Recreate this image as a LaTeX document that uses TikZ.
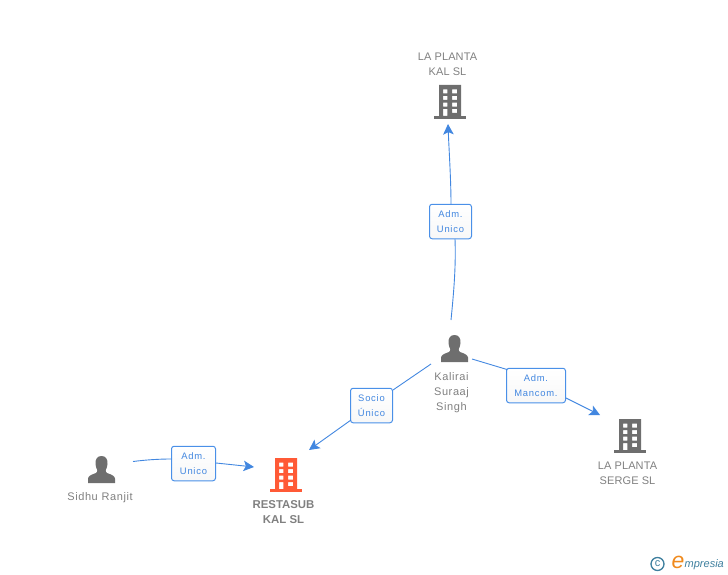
\documentclass[tikz,border=0pt]{standalone}
\usepackage{fontspec}
\setmainfont{Liberation Sans}
\usetikzlibrary{arrows.meta}
\definecolor{linkblue}{HTML}{4287E0}
\definecolor{boxblue}{HTML}{4A90E8}
\definecolor{icongrey}{HTML}{6E6E6E}
\definecolor{textgrey}{HTML}{808080}
\definecolor{accent}{HTML}{FF5A36}
\definecolor{logoteal}{HTML}{3E7F9E}
\definecolor{logoorange}{HTML}{F08A1D}
\tikzset{
  x=1pt,y=-1pt,
  rolebox/.style={draw=boxblue,line width=1pt,rounded corners=2.6pt,top color=white,bottom color=white!97!black,
    text=linkblue,font=\fontsize{9.4}{15}\selectfont\addfontfeature{LetterSpace=8},align=center,inner sep=0pt,text width=#1,minimum height=34.5pt},
  rolebox/.default=42pt,
  link/.style={draw=linkblue,line width=0.9pt},
  linkarrow/.style={link,-{Stealth[length=10.5pt,width=10.5pt,inset=2.4pt]}},
  caption/.style={text=textgrey,font=\fontsize{11}{15}\selectfont\addfontfeature{LetterSpace=#1},align=center,inner sep=0pt},
  caption/.default=1,
  iconbox/.style={minimum width=32pt,minimum height=34pt,inner sep=0pt},
  pics/office/.style={code={
    \fill[#1,even odd rule] (-11,0) rectangle (11,31)
      (-7,4.5) rectangle (-2.6,8.5) (2,4.5) rectangle (7,8.5)
      (-7,11) rectangle (-2.6,15) (2,11) rectangle (7,15)
      (-7,17.7) rectangle (-2.6,21.7) (2,17.7) rectangle (7,21.7)
      (2,24) rectangle (7,28) (-7,24) rectangle (-2.6,31);
    \fill[#1] (-16,31) rectangle (16,34);
  }},
  pics/personicon/.style={code={
    \fill[icongrey] (0,0) .. controls (-4.5,0) and (-6.3,3.5) .. (-6,8)
      .. controls (-5.8,11) and (-5,12.5) .. (-4.2,14)
      .. controls (-4.2,15.5) and (-4.5,16.5) .. (-5.5,17)
      .. controls (-9.5,18.5) and (-13,19.5) .. (-13.5,22.5) -- (-13.5,27) -- (13.5,27) -- (13.5,22.5)
      .. controls (13,19.5) and (9.5,18.5) .. (5.5,17)
      .. controls (4.5,16.5) and (4.2,15.5) .. (4.2,14)
      .. controls (5,12.5) and (5.8,11) .. (6,8)
      .. controls (6.3,3.5) and (4.5,0) .. (0,0) -- cycle;
  }},
}
\begin{document}
\begin{tikzpicture}
\useasboundingbox (0,0) rectangle (728,575);
% icons (named nodes carrying the drawn pictograms)
\node[iconbox] (planta1) at (450,102) {};
\pic at (450,85) {office=icongrey};
\node[iconbox] (planta2) at (630,436) {};
\pic at (630,419) {office=icongrey};
\node[iconbox] (restasub) at (286,475) {};
\pic at (286,458) {office=accent};
\node[iconbox,minimum width=27pt,minimum height=27pt] (kalirai) at (454.5,348.5) {};
\pic at (454.5,335) {personicon};
\node[iconbox,minimum width=27pt,minimum height=27pt] (sidhu) at (101.5,469.5) {};
\pic at (101.5,456) {personicon};
% captions
\node[caption] (tplanta1) at (447.5,64.5) {LA PLANTA\\KAL SL};
\node[caption] (tplanta2) at (627.5,473.5) {LA PLANTA\\SERGE SL};
\node[caption=0,font=\fontsize{11.4}{15}\selectfont\bfseries] (trest) at (283.5,512) {RESTASUB\\KAL SL};
\node[caption=5.5] (tkal) at (451.5,393) {Kalirai\\Suraaj\\Singh};
\node[caption=5.5] (tsid) at (100,498) {Sidhu Ranjit};
% free ends of connectors
\coordinate (k1) at (451,320);
\coordinate (k2) at (431,364);
\coordinate (k3) at (472,359);
\coordinate (s1) at (133,461.5);
\coordinate (tipa) at (448,124);
\coordinate (tipb) at (309,450);
\coordinate (tipc) at (600,415);
\coordinate (tipd) at (254,467);
% role boxes
\node[rolebox] (r1) at (450.5,221.5) {Adm.\\Unico};
\node[rolebox] (r2) at (371.5,405.5) {Socio\\Único};
\node[rolebox=59pt] (r3) at (536,385.5) {Adm.\\Mancom.};
\node[rolebox=44pt] (r4) at (193.5,463.5) {Adm.\\Unico};
% connectors
\draw[link] (k1) .. controls (454,290) and (456,265) .. (455,239);
\draw[linkarrow] (451,204) .. controls (451,180) and (449,150) .. (tipa);
\draw[link] (k2) -- (393,390);
\draw[linkarrow] (351,420) -- (tipb);
\draw[link] (k3) -- (507,369.5);
\draw[linkarrow] (566,398) -- (tipc);
\draw[link] (s1) .. controls (145,460) and (158,459) .. (171,459);
\draw[linkarrow] (216,463) -- (tipd);
% logo
\node[draw=logoteal,line width=1.3pt,circle,minimum size=13pt,inner sep=0pt,text=logoteal,font=\fontsize{11}{11}\selectfont] (copy) at (657.5,564) {\raisebox{0.3pt}{c}};
\node[inner sep=0pt,text=logoorange,font=\itshape\fontsize{23}{23}\selectfont] (loge) at (678,562.5) {e};
\node[inner sep=0pt,anchor=west,text=logoteal,font=\itshape\fontsize{11}{11}\selectfont] (logt) at (684.5,565) {mpresia};
\end{tikzpicture}
\end{document}
